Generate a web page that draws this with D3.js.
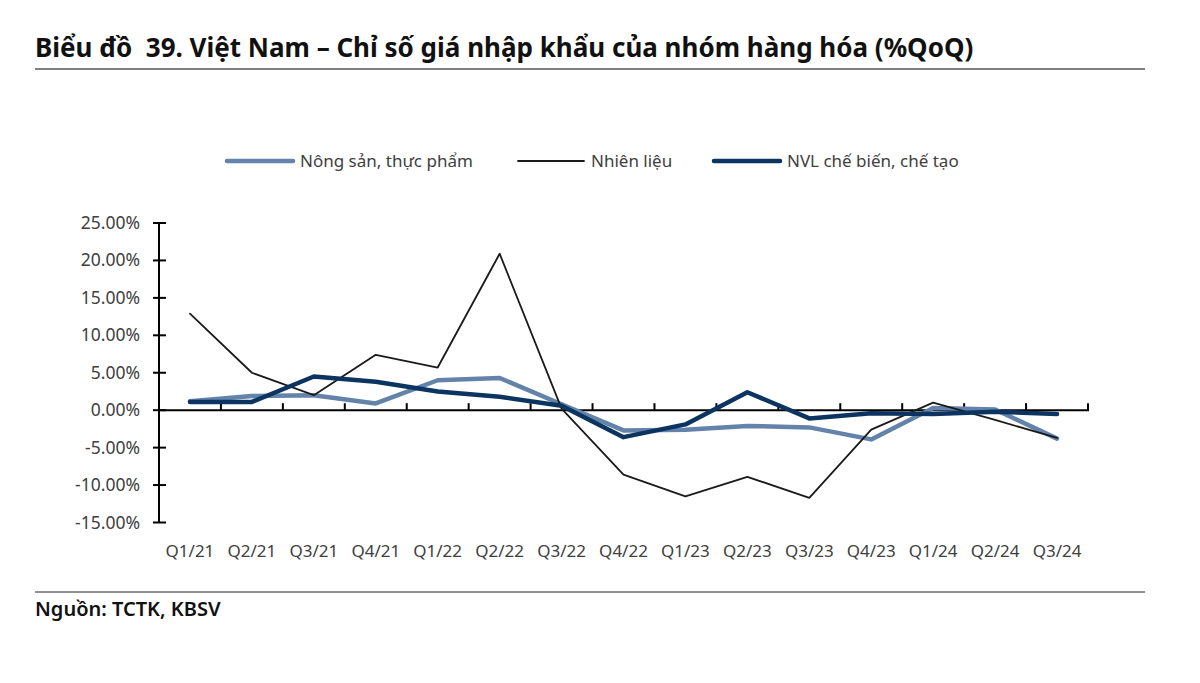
<!DOCTYPE html>
<html>
<head>
<meta charset="utf-8">
<script src="https://cdn.jsdelivr.net/npm/d3@7"></script>
<style>
  body { margin: 0; background: #fff; }
  text { font-family: "Noto Sans", sans-serif; }
</style>
</head>
<body>
<div id="chart"></div>
<script>
var quarters = ["Q1/21","Q2/21","Q3/21","Q4/21","Q1/22","Q2/22","Q3/22","Q4/22","Q1/23","Q2/23","Q3/23","Q4/23","Q1/24","Q2/24","Q3/24"];
var nongSan = [1.2, 1.9, 2.0, 0.9, 4.0, 4.3, 0.8, -2.7, -2.6, -2.1, -2.3, -3.9, 0.3, 0.1, -3.8];
var nhienLieu = [12.9, 5.0, 2.0, 7.4, 5.7, 20.9, 0.2, -8.6, -11.5, -8.9, -11.7, -2.6, 1.0, -1.3, -3.7];
var nvl = [1.1, 1.1, 4.5, 3.8, 2.5, 1.8, 0.6, -3.6, -1.9, 2.4, -1.1, -0.4, -0.5, -0.2, -0.5];
var yTicks = [25, 20, 15, 10, 5, 0, -5, -10, -15];

var width = 1200, height = 683;
var svg = d3.select('#chart').append('svg').attr('width', width).attr('height', height);

// title
svg.append('text').attr('x', 35).attr('y', 57)
  .attr('font-size', 26).attr('font-weight', 'bold').attr('fill', '#111')
  .style('white-space', 'pre')
  .text('Biểu đồ  39. Việt Nam – Chỉ số giá nhập khẩu của nhóm hàng hóa (%QoQ)');
svg.append('line').attr('x1', 35).attr('x2', 1145).attr('y1', 69).attr('y2', 69)
  .attr('stroke', '#7f7f7f').attr('stroke-width', 2);

var x = d3.scaleBand().domain(quarters).range([159, 1088]);
var y = d3.scaleLinear().domain([-15, 25]).range([522.5, 223]);

// y axis
var yAxis = svg.append('g');
yAxis.append('line').attr('x1', 159).attr('x2', 159).attr('y1', y(25)).attr('y2', y(-15))
  .attr('stroke', '#000').attr('stroke-width', 2);
yAxis.selectAll('.yt').data(yTicks).join('line')
  .attr('x1', 153).attr('x2', 166).attr('y1', d => y(d)).attr('y2', d => y(d))
  .attr('stroke', '#000').attr('stroke-width', 2);
yAxis.selectAll('.yl').data(yTicks).join('text')
  .attr('x', 140).attr('y', d => y(d) + 6).attr('text-anchor', 'end')
  .attr('font-size', 17.5).attr('fill', '#404040')
  .text(d => d.toFixed(2) + '%');

// x axis at zero
svg.append('line').attr('x1', 159).attr('x2', 1089).attr('y1', y(0)).attr('y2', y(0))
  .attr('stroke', '#000').attr('stroke-width', 2);
svg.selectAll('.xt').data(quarters).join('line')
  .attr('x1', d => x(d) + x.bandwidth()).attr('x2', d => x(d) + x.bandwidth())
  .attr('y1', y(0)).attr('y2', y(0) - 7)
  .attr('stroke', '#000').attr('stroke-width', 2);
svg.selectAll('.xl').data(quarters).join('text')
  .attr('x', d => x(d) + x.bandwidth() / 2).attr('y', 557).attr('text-anchor', 'middle')
  .attr('font-size', 17).attr('fill', '#404040')
  .text(d => d);

var line = d3.line().x((d, i) => x(quarters[i]) + x.bandwidth() / 2).y(d => y(d));

var series = [
  {name: 'Nông sản, thực phẩm', values: nongSan, color: '#6383ab', w: 4.5},
  {name: 'Nhiên liệu', values: nhienLieu, color: '#1a1a1a', w: 1.8},
  {name: 'NVL chế biến, chế tạo', values: nvl, color: '#0b3461', w: 4.5}
];

svg.selectAll('.series').data(series).join('path')
  .attr('fill', 'none')
  .attr('stroke', d => d.color).attr('stroke-width', d => d.w)
  .attr('stroke-linejoin', 'round').attr('stroke-linecap', 'round')
  .attr('d', d => line(d.values));

// legend
var legendX = [227, 518, 714];
var lg = svg.selectAll('.lg').data(series).join('g')
  .attr('transform', (d, i) => 'translate(' + legendX[i] + ',161)');
lg.append('line').attr('x1', 0).attr('x2', 66).attr('y1', 0).attr('y2', 0)
  .attr('stroke', d => d.color).attr('stroke-width', d => d.w)
  .attr('stroke-linecap', 'round');
lg.append('text').attr('x', 73).attr('y', 6)
  .attr('font-size', 17).attr('fill', '#404040')
  .text(d => d.name);

// source
svg.append('line').attr('x1', 35).attr('x2', 1145).attr('y1', 592).attr('y2', 592)
  .attr('stroke', '#222').attr('stroke-width', 1);
svg.append('text').attr('x', 35).attr('y', 616)
  .attr('font-size', 20).attr('font-weight', 600).attr('fill', '#111')
  .text('Nguồn: TCTK, KBSV');
</script>
</body>
</html>
